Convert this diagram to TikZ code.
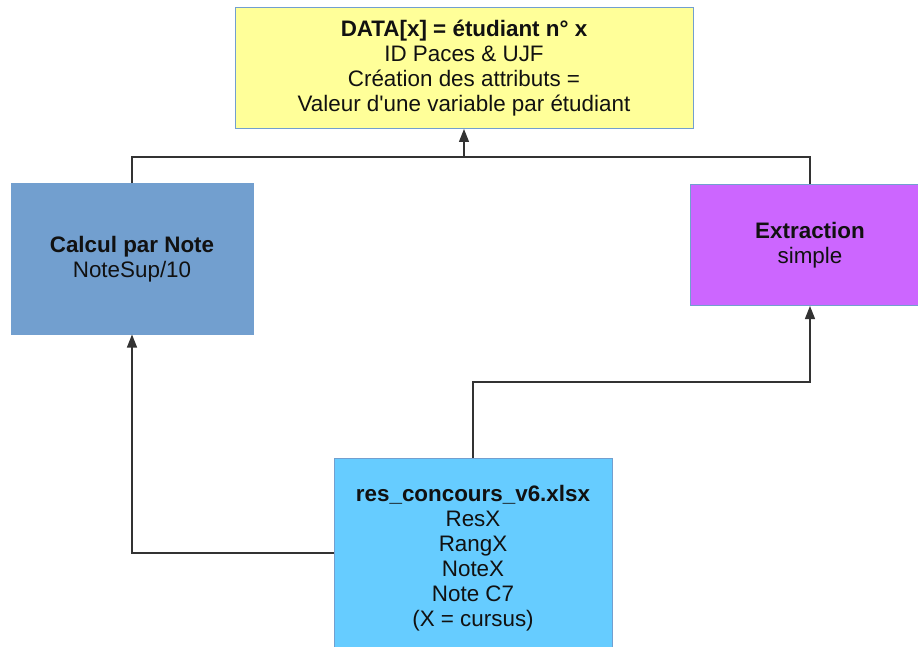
\documentclass[tikz,border=0pt]{standalone}
\usepackage{fontspec}
\setmainfont{Liberation Sans}
\usepackage{xcolor}
\usepackage{tikz}
\usetikzlibrary{calc,arrows.meta}
\definecolor{bg}{HTML}{FFFFFF}
\definecolor{wire}{HTML}{333333}
\definecolor{edge}{HTML}{729FCF}
\definecolor{txt}{HTML}{111111}
\definecolor{yellowbg}{HTML}{FFFF99}
\definecolor{bluebg}{HTML}{729FCF}
\definecolor{purplebg}{HTML}{CC66FF}
\definecolor{cyanbg}{HTML}{66CCFF}
\tikzset{
  box/.style={draw=edge, line width=1pt, text=txt, align=center, inner sep=0pt,
    font=\fontsize{22.4}{25.1}\selectfont},
  link/.style={draw=wire, line width=1.3pt},
  arr/.style={link, -{Triangle[length=13pt,width=10pt]}},
}
\begin{document}
\begin{tikzpicture}[x=1pt,y=-1pt]
  \useasboundingbox[fill=bg] (0,0) rectangle (918,647);

  \node[box, fill=yellowbg, minimum width=458pt, minimum height=121pt] (data) at (464,68)
    {\textbf{DATA[x] = étudiant n° x}\\ID Paces \& UJF\\Création des attributs =\\Valeur d\textquotesingle une variable par étudiant};
  \node[box, fill=bluebg, minimum width=242pt, minimum height=150pt] (calc) at (132,259)
    {\textbf{Calcul par Note}\\NoteSup/10};
  \node[box, fill=purplebg, minimum width=240pt, minimum height=121pt] (extr) at (810,245)
    {\textbf{Extraction}\\simple};
  \node[box, fill=cyanbg, minimum width=278pt, minimum height=200pt] (src) at (473,558)
    {\textbf{res\_concours\_v6.xlsx}\\ResX\\RangX\\NoteX\\Note C7\\(X = cursus)};

  \coordinate (join) at (464,157);
  \coordinate (bend) at (473,382);

  \draw[link] (calc.north) |- (join) -| (extr.north);
  \draw[arr] (join) -- (data.south);
  \draw[arr] ([yshift=5pt]src.west) -| (calc.south);
  \draw[arr] (src.north) -- (bend) -| (extr.south);
\end{tikzpicture}
\end{document}
